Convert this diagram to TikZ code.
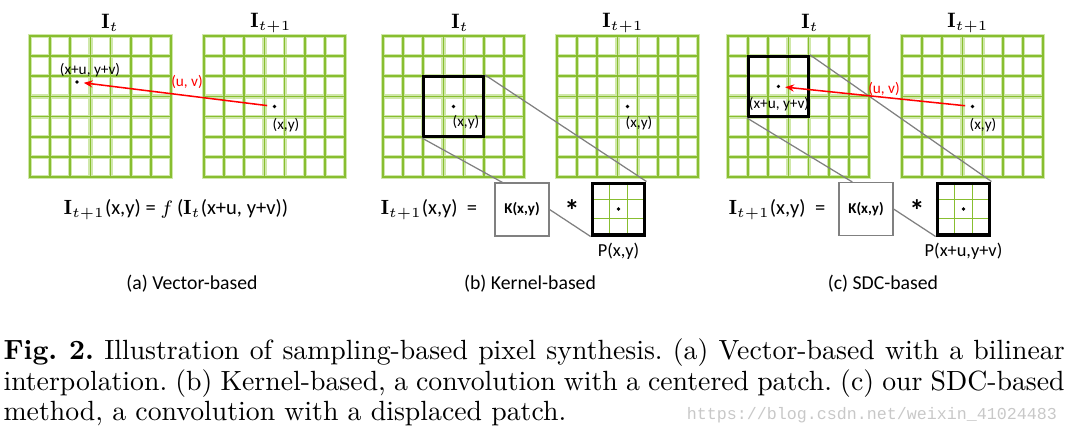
\documentclass[tikz,border=0pt]{standalone}
\usepackage{fontspec}
\usepackage{tikz}
\usetikzlibrary{arrows.meta, positioning, calc, backgrounds}
\newfontfamily\calibri{Carlito}
\newfontfamily\wmfont{Liberation Mono}
\definecolor{gridgreen}{HTML}{88BE30}
\definecolor{gridhalo}{HTML}{D0E8AA}
\definecolor{linkgray}{HTML}{808080}
\definecolor{wmgray}{HTML}{C8C8C8}

\begin{document}
\begin{tikzpicture}[
  x=0.36pt, y=-0.36pt,
  halo/.style={draw=gridhalo, line width=1.5pt, line cap=rect},
  core/.style={draw=gridgreen, line width=0.62pt, line cap=rect},
  cell/.style={draw=gridgreen, line width=0.45pt},
  pix/.style={circle, fill=black, inner sep=0pt, minimum size=1.3pt},
  lbl/.style={font=\calibri\fontsize{5.5}{6}\selectfont, inner sep=0pt},
  plbl/.style={font=\calibri\fontsize{6.6}{7}\selectfont, inner sep=0pt},
  title/.style={font=\fontsize{7.5}{8}\selectfont, inner sep=0pt},
  eqn/.style={font=\calibri\fontsize{7.4}{8}\selectfont, inner sep=0pt},
  sub/.style={font=\calibri\fontsize{7.1}{8}\selectfont, inner sep=0pt},
  window/.style={draw=black, line width=1.1pt, minimum size=21.6pt, inner sep=0pt},
  kernel/.style={draw=linkgray, line width=0.45pt, minimum width=19.4pt, minimum height=19pt,
                 inner sep=0pt, font=\calibri\bfseries\fontsize{5.4}{6}\selectfont},
  patch/.style={draw=black, line width=1.1pt, minimum width=19pt, minimum height=18.7pt, inner sep=0pt},
  conv/.style={font=\calibri\bfseries\fontsize{11}{12}\selectfont, inner sep=0pt},
  link/.style={draw=linkgray, line width=0.45pt},
  flow/.style={-{Stealth[length=3.2pt, width=2.6pt]}, draw=red, line width=0.55pt,
               shorten <=1.8pt, shorten >=1.6pt},
  capline/.style={anchor=base west, inner sep=0pt, font=\fontsize{10}{11}\selectfont\frenchspacing}
]
  \useasboundingbox (0,0) rectangle (1069,438);

  % Pixel grids
  \foreach \gx in {30,204,383,557,728,902} {
    \foreach \k in {0,...,7} {
      \draw[halo] (\gx+\k*20.15,36) -- (\gx+\k*20.15,177);
      \draw[halo] (\gx,36+\k*20.15) -- (\gx+141,36+\k*20.15);
    }
    \foreach \k in {0,...,7} {
      \draw[core] (\gx+\k*20.15,36) -- (\gx+\k*20.15,177);
      \draw[core] (\gx,36+\k*20.15) -- (\gx+141,36+\k*20.15);
    }
  }

  % (a) Vector-based
  \node[title] (ta1) at (110,23) {$\mathbf{I}_t$};
  \node[title] (ta2) at (271,23) {$\mathbf{I}_{t+1}$};
  \node[pix] (qa) at (77,82) {};
  \node[pix] (pa) at (274.5,106.5) {};
  \node[lbl] (lqa) at (90,70) {(x+u, y+v)};
  \node[lbl] (lpa) at (286,125) {(x,y)};
  \node[lbl, text=red] (uva) at (187,82) {(u, v)};
  \draw[flow] (pa) -- (qa);
  \node[eqn] (fa) at (176,210) {$\mathbf{I}_{t+1}$(x,y) = $f\,$($\mathbf{I}_t$(x+u, y+v))};
  \node[sub] (capa) at (192,284) {(a) Vector-based};

  % (b) Kernel-based
  \node[title] (tb1) at (460,23) {$\mathbf{I}_t$};
  \node[title] (tb2) at (623,23) {$\mathbf{I}_{t+1}$};
  \node[window] (winb) at (453.5,106.5) {};
  \node[pix] (qb) at (453.5,106.5) {};
  \node[lbl] (lqb) at (466,122) {(x,y)};
  \node[pix] (pb) at (627.5,106.5) {};
  \node[lbl] (lpb) at (639,123) {(x,y)};
  \node[eqn] (fb) at (429,210) {$\mathbf{I}_{t+1}$(x,y)~~=};
  \node[kernel] (kerb) at (522,209.5) {K(x,y)};
  \node[conv] (sb) at (572,211) {*};
  \node[patch] (patb) at (618.5,209) {};
  \node[pix] (cb) at (patb) {};
  \node[plbl, below=2.2pt of patb] (lpatb) {P(x,y)};
  \node[sub] (capb) at (530,284) {(b) Kernel-based};

  % (c) SDC-based
  \node[title] (tc1) at (810,23) {$\mathbf{I}_t$};
  \node[title] (tc2) at (968,23) {$\mathbf{I}_{t+1}$};
  \node[window] (winc) at (778.4,86.4) {};
  \node[pix] (qc) at (778.4,86.4) {};
  \node[lbl] (lqc) at (779,104) {(x+u, y+v)};
  \node[pix] (pc) at (972.5,106.5) {};
  \node[lbl] (lpc) at (983,125) {(x,y)};
  \node[eqn] (fc) at (777,210) {$\mathbf{I}_{t+1}$(x,y)~~=};
  \node[kernel] (kerc) at (866,209) {K(x,y)};
  \node[conv] (sc) at (917,211) {*};
  \node[patch] (patc) at (963.5,209) {};
  \node[pix] (cc) at (patc) {};
  \node[plbl, below=2.2pt of patc] (lpatc) {P(x+u,y+v)};
  \node[sub] (capc) at (883,284) {(c) SDC-based};

  % Patch cells
  \begin{scope}[on background layer]
    \foreach \p in {patb, patc} {
      \foreach \f in {1,2} {
        \draw[cell] ($(\p.north west)!\f/3!(\p.north east)$) -- ($(\p.south west)!\f/3!(\p.south east)$);
        \draw[cell] ($(\p.north west)!\f/3!(\p.south west)$) -- ($(\p.north east)!\f/3!(\p.south east)$);
      }
      \draw[cell] ([shift={(0.8pt,-0.8pt)}]\p.north west) rectangle ([shift={(-0.8pt,0.8pt)}]\p.south east);
    }
  \end{scope}

  % Links
  \draw[link] (winb.north east) -- (patb.north east);
  \draw[link] (winb.south west) -- ([xshift=2.9pt]kerb.north west);
  \draw[link] (kerb.east) -- (patb.south west);
  \draw[link] (winc.north east) -- (patc.north east);
  \draw[link] (winc.south west) -- ([xshift=5pt]kerc.north west);
  \draw[link] (kerc.east) -- (patc.south west);

  % Displacement
  \node[lbl, text=red] (uvc) at (884,89) {(u, v)};
  \draw[flow] (pc) -- (qc);

  % Caption
  \node[capline] (cap1) at (3,359)
    {\makebox[382pt][s]{\textbf{Fig. 2.} Illustration of sampling-based pixel synthesis. (a) Vector-based with a bilinear}};
  \node[capline] (cap2) at (3,390)
    {\makebox[382pt][s]{interpolation. (b) Kernel-based, a convolution with a centered patch. (c) our SDC-based}};
  \node[capline] (cap3) at (3,420) {method, a convolution with a displaced patch.};
  \node[font=\wmfont\fontsize{6}{7}\selectfont, text=wmgray, inner sep=0pt] (wm) at (872,415)
    {https://blog.csdn.net/weixin\_41024483};
\end{tikzpicture}
\end{document}
